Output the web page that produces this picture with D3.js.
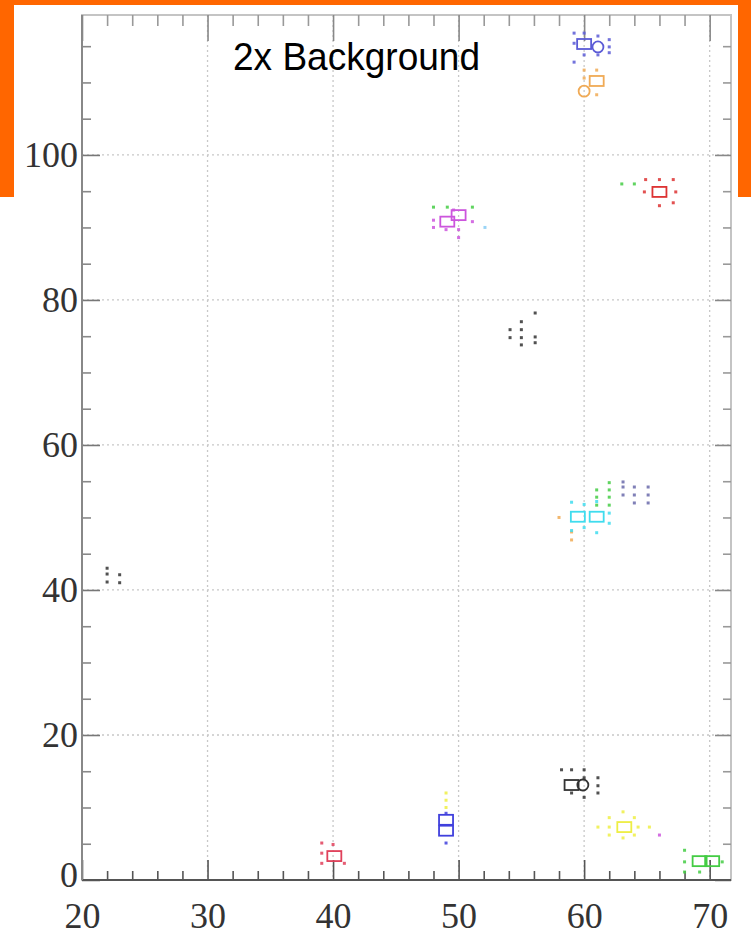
<!DOCTYPE html>
<html>
<head>
<meta charset="utf-8">
<script src="https://cdn.jsdelivr.net/npm/d3@7"></script>
<style>
    body { margin: 0; background: #fff; }
    .tickLabel text { font-family: "Liberation Serif", "DejaVu Serif", serif; font-size: 36px; fill: #333; }
</style>
</head>
<body>
<svg id="chartSVG" width="751" height="937"></svg>
<script>
/* ---------- Data ---------- */
const xMajorTicks = [20, 30, 40, 50, 60, 70];
const yMajorTicks = [0, 20, 40, 60, 80, 100];
const chartTitle = "2x Background";

// small dots [x, y]
const blueTopDots = [[59.2, 116.8], [60, 116.8], [61.1, 116.4], [59.2, 115.4], [62, 115.9], [62, 114.9], [62, 114.1], [60, 113.8], [61.1, 113.8], [59.2, 112.8]];
const orangeTopDots = [[60, 111.7], [60, 110.6], [61, 111.7], [61, 108.3]];
const redTopDots = [[64.9, 96.6], [66, 96.6], [67.1, 96.6], [64.8, 94.9], [67.3, 94.9], [66, 93.0], [67.1, 93.4]];
const greenTopDots = [[63, 96], [64, 96], [48, 92.8], [49.1, 92.8], [51.1, 92.8]];
const magentaDots = [[48, 91], [48, 90], [49, 89.7], [50, 89.7], [50, 88.6], [51.1, 90.8], [49.6, 92.4]];
const lightBlueDots = [[52.1, 90]];
const blackMidDots = [[54.1, 75.9], [54.1, 74.8], [55, 77], [55, 75.9], [55, 74.8], [55, 73.8], [56.1, 78.2], [56.1, 74.9], [56.1, 74.1]];
const blackLeftDots = [[22, 43], [22, 42.2], [22, 41.1], [23, 42.1], [23, 41]];
const cyanDots = [[59, 52.1], [60, 51.8], [61, 52.2], [62, 50.6], [62, 49.2], [61, 47.9], [59, 48.2], [60, 48.6]];
const orangeMidDots = [[58, 50], [59, 48], [59, 46.9]];
const greenMidDots = [[61, 53.8], [61, 52.8], [61, 51.7], [62, 54.8], [62, 53.8], [62, 52.8], [62, 51.7]];
const purpleDots = [[63.1, 54.9], [63.1, 54.2], [63.1, 53.1], [64, 54.2], [64, 53.1], [64, 52], [65.1, 54.2], [65.1, 53.1], [65.1, 52]];
const blackLowDots = [[58.2, 15.2], [59, 15.2], [60, 15.2], [60, 14.1], [60, 11.4], [61.1, 14.1], [61.1, 13], [61.1, 12], [59, 12]];
const yellowDots = [[61.1, 7.3], [62, 8.6], [63.1, 9.4], [64, 8.6], [62, 6.2], [63.1, 5.8], [64, 6.2], [65.2, 7.3], [62, 7.3], [64.3, 7.3], [49, 12], [49, 11], [49, 10]];
const magentaLowDots = [[66, 6.2]];
const blueLowDots = [[49, 9.2], [49, 5.1]];
const redLowDots = [[39.1, 5.1], [39.1, 3.7], [39.1, 2.3], [40.9, 2.3], [40, 4.9]];
const greenLowDots = [[68, 4.1], [68, 2.5], [68, 1.1], [69.2, 1.1], [71, 2.5]];

// larger open markers [x, y]
const blueTopBoxes = [[60, 115.3]];
const blueTopRings = [[61.1, 114.9]];
const orangeTopBoxes = [[61, 110.2]];
const orangeTopRings = [[60, 108.8]];
const redTopBoxes = [[66, 94.9]];
const magentaBoxes = [[49.1, 90.8], [50, 91.7]];
const cyanBoxes = [[59.5, 50.1], [61, 50.1]];
const blackLowBoxes = [[59, 13.1]];
const blackLowRings = [[59.9, 13.1]];
const yellowBoxes = [[63.2, 7.3]];
const blueLowBoxes = [[49, 8.3], [49, 6.8]];
const redLowBoxes = [[40.1, 3.3]];
const greenLowBoxes = [[69.2, 2.6], [70.2, 2.6]];

const seriesColours = {
    blue: "#5b5bd6", orange: "#f0aa55", red: "#dd3333", green: "#44cc44",
    magenta: "#cc55dd", lightBlue: "#88ccf4", black: "#333333", cyan: "#3fdcee",
    purple: "#6a6aaa", yellow: "#eeee44", blueLow: "#4040dd", redLow: "#e0405a"
};

const series = [
    { colour: "blue", dots: blueTopDots, boxes: blueTopBoxes, rings: blueTopRings },
    { colour: "orange", dots: orangeTopDots.concat(orangeMidDots), boxes: orangeTopBoxes, rings: orangeTopRings },
    { colour: "red", dots: redTopDots, boxes: redTopBoxes, rings: [] },
    { colour: "green", dots: greenTopDots.concat(greenMidDots, greenLowDots), boxes: greenLowBoxes, rings: [] },
    { colour: "magenta", dots: magentaDots.concat(magentaLowDots), boxes: magentaBoxes, rings: [] },
    { colour: "lightBlue", dots: lightBlueDots, boxes: [], rings: [] },
    { colour: "black", dots: blackMidDots.concat(blackLeftDots, blackLowDots), boxes: blackLowBoxes, rings: blackLowRings },
    { colour: "cyan", dots: cyanDots, boxes: cyanBoxes, rings: [] },
    { colour: "purple", dots: purpleDots, boxes: [], rings: [] },
    { colour: "yellow", dots: yellowDots, boxes: yellowBoxes, rings: [] },
    { colour: "blueLow", dots: blueLowDots, boxes: blueLowBoxes, rings: [] },
    { colour: "redLow", dots: redLowDots, boxes: redLowBoxes, rings: [] }
];

/* ---------- Layout ---------- */
const plotLeft = 82, plotRight = 731, plotTop = 15, plotBottom = 880;
const svg = d3.select("#chartSVG");

// orange band behind the picture
svg.append("rect").attr("x", 0).attr("y", 0).attr("width", 751).attr("height", 197).attr("fill", "#ff6600");
svg.append("rect").attr("x", 14).attr("y", 5).attr("width", 724).attr("height", 932).attr("fill", "#ffffff");

/* ---------- Scales ---------- */
var xScale = d3.scaleLinear().domain([20, 71.7]).range([plotLeft, plotRight]);
var yScale = d3.scaleLinear().domain([0, 119.3]).range([plotBottom, plotTop]);

var xMinor = d3.range(20, 72, 2).filter(v => v % 10 !== 0);
var yMinor = d3.range(0, 120, 5).filter(v => v % 20 !== 0);

/* ---------- Grid ---------- */
var grid = svg.append("g").attr("id", "grid");
grid.selectAll(".vgrid").data(xMajorTicks.slice(1)).enter().append("line")
    .attr("x1", d => xScale(d)).attr("x2", d => xScale(d))
    .attr("y1", plotTop).attr("y2", plotBottom)
    .attr("stroke", "#c8c8c8").attr("stroke-width", 1.3).attr("stroke-dasharray", "2,3");
grid.selectAll(".hgrid").data(yMajorTicks.slice(1)).enter().append("line")
    .attr("x1", plotLeft).attr("x2", plotRight)
    .attr("y1", d => yScale(d)).attr("y2", d => yScale(d))
    .attr("stroke", "#c8c8c8").attr("stroke-width", 1.3).attr("stroke-dasharray", "2,3");

/* ---------- Frame and inward ticks ---------- */
var frame = svg.append("g").attr("id", "frame");
frame.append("rect").attr("x", plotLeft).attr("y", plotTop)
    .attr("width", plotRight - plotLeft).attr("height", plotBottom - plotTop)
    .attr("fill", "none").attr("stroke", "#c4c4c4").attr("stroke-width", 2);

function tickAxis(axis, transform, size, colour) {
    var g = svg.append("g").attr("transform", transform).call(axis.tickSize(size).tickFormat(""));
    g.select(".domain").remove();
    g.selectAll("line").attr("stroke", colour).attr("stroke-width", 1.6);
}
tickAxis(d3.axisBottom(xScale).tickValues(xMinor), "translate(0," + plotBottom + ")", -9, "#555");
tickAxis(d3.axisBottom(xScale).tickValues(xMajorTicks), "translate(0," + plotBottom + ")", -20, "#555");
tickAxis(d3.axisTop(xScale).tickValues(xMinor), "translate(0," + plotTop + ")", -11, "#999");
tickAxis(d3.axisTop(xScale).tickValues(xMajorTicks), "translate(0," + plotTop + ")", -26, "#888");
tickAxis(d3.axisLeft(yScale).tickValues(yMinor), "translate(" + plotLeft + ",0)", -9, "#888");
tickAxis(d3.axisLeft(yScale).tickValues(yMajorTicks), "translate(" + plotLeft + ",0)", -18, "#777");
tickAxis(d3.axisRight(yScale).tickValues(yMinor), "translate(" + plotRight + ",0)", -8, "#999");
tickAxis(d3.axisRight(yScale).tickValues(yMajorTicks), "translate(" + plotRight + ",0)", -16, "#888");

// axis base lines
svg.append("line").attr("x1", plotLeft).attr("x2", plotRight).attr("y1", plotBottom).attr("y2", plotBottom)
    .attr("stroke", "#555").attr("stroke-width", 2);
svg.append("line").attr("x1", plotLeft).attr("x2", plotLeft).attr("y1", plotTop).attr("y2", plotBottom)
    .attr("stroke", "#888").attr("stroke-width", 2);

/* ---------- Tick labels ---------- */
// keep the bottom labels inside the 937px page
var xLabels = svg.append("g").attr("class", "tickLabel")
    .attr("transform", "translate(0," + plotBottom + ")")
    .call(d3.axisBottom(xScale).tickValues(xMajorTicks).tickSize(0).tickPadding(22).tickFormat(d3.format("d")));
xLabels.select(".domain").remove();
var yLabels = svg.append("g").attr("class", "tickLabel")
    .attr("transform", "translate(" + plotLeft + ",0)")
    .call(d3.axisLeft(yScale).tickValues(yMajorTicks).tickSize(0).tickPadding(4).tickFormat(d3.format("d")));
yLabels.select(".domain").remove();
// nudge the "0" up a little so it does not run into the "20" below it
yLabels.selectAll("text").filter(d => d === 0).attr("dy", "0.18em");
svg.selectAll(".tickLabel text").attr("fill", "#333");

/* ---------- Markers ---------- */
series.forEach(s => {
    var g = svg.append("g").attr("id", s.colour);
    var c = seriesColours[s.colour];
    g.selectAll(".dot").data(s.dots).enter().append("rect")
        .attr("x", d => xScale(d[0]) - 1.5).attr("y", d => yScale(d[1]) - 1.5)
        .attr("width", 3).attr("height", 3).attr("fill", c).attr("opacity", 0.85);
    g.selectAll(".box").data(s.boxes).enter().append("rect")
        .attr("x", d => xScale(d[0]) - 7).attr("y", d => yScale(d[1]) - 5)
        .attr("width", 14).attr("height", 10)
        .attr("fill", "none").attr("stroke", c).attr("stroke-width", 1.8);
    g.selectAll(".ring").data(s.rings).enter().append("circle")
        .attr("cx", d => xScale(d[0])).attr("cy", d => yScale(d[1])).attr("r", 5.5)
        .attr("fill", "none").attr("stroke", c).attr("stroke-width", 1.8);
});

/* ---------- Title ---------- */
svg.append("text").text(chartTitle)
    .attr("x", 233).attr("y", 70)
    .attr("font-family", "'Liberation Sans', Arial, sans-serif")
    .attr("font-size", 39).attr("fill", "#000")
    .attr("textLength", 247).attr("lengthAdjust", "spacingAndGlyphs");
</script>
</body>
</html>
